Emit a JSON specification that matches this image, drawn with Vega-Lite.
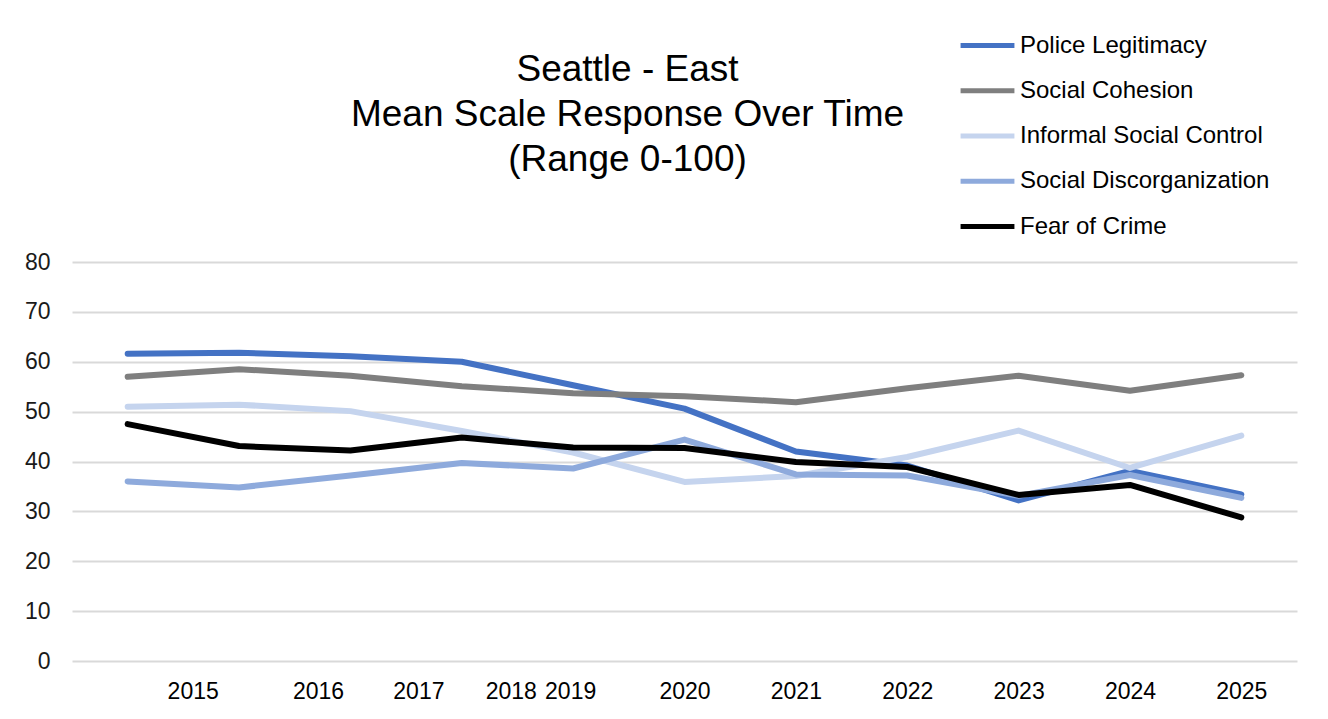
{
  "$schema": "https://vega.github.io/schema/vega-lite/v6.json",
  "width": 1225,
  "height": 399,
  "autosize": {"type": "none"},
  "padding": {"left": 72, "top": 262, "right": 31, "bottom": 58},
  "background": "white",
  "title": {
    "text": ["Seattle - East", "Mean Scale Response Over Time", "(Range 0-100)"],
    "font": "Liberation Sans",
    "fontSize": 37,
    "fontWeight": "normal",
    "color": "#000000",
    "lineHeight": 45,
    "anchor": "middle",
    "frame": "group",
    "dx": -57,
    "offset": -163
  },
  "data": {
    "values": [
      {"year": 2015, "series": "Police Legitimacy", "value": 61.6},
      {"year": 2016, "series": "Police Legitimacy", "value": 61.8},
      {"year": 2017, "series": "Police Legitimacy", "value": 61.1},
      {"year": 2018, "series": "Police Legitimacy", "value": 60.0},
      {"year": 2019, "series": "Police Legitimacy", "value": 55.3},
      {"year": 2020, "series": "Police Legitimacy", "value": 50.6},
      {"year": 2021, "series": "Police Legitimacy", "value": 42.0},
      {"year": 2022, "series": "Police Legitimacy", "value": 39.2},
      {"year": 2023, "series": "Police Legitimacy", "value": 32.2},
      {"year": 2024, "series": "Police Legitimacy", "value": 38.1},
      {"year": 2025, "series": "Police Legitimacy", "value": 33.4},
      {"year": 2015, "series": "Social Cohesion", "value": 57.0},
      {"year": 2016, "series": "Social Cohesion", "value": 58.5},
      {"year": 2017, "series": "Social Cohesion", "value": 57.2},
      {"year": 2018, "series": "Social Cohesion", "value": 55.1},
      {"year": 2019, "series": "Social Cohesion", "value": 53.7},
      {"year": 2020, "series": "Social Cohesion", "value": 53.1},
      {"year": 2021, "series": "Social Cohesion", "value": 51.9},
      {"year": 2022, "series": "Social Cohesion", "value": 54.7},
      {"year": 2023, "series": "Social Cohesion", "value": 57.2},
      {"year": 2024, "series": "Social Cohesion", "value": 54.2},
      {"year": 2025, "series": "Social Cohesion", "value": 57.3},
      {"year": 2015, "series": "Informal Social Control", "value": 51.0},
      {"year": 2016, "series": "Informal Social Control", "value": 51.4},
      {"year": 2017, "series": "Informal Social Control", "value": 50.1},
      {"year": 2018, "series": "Informal Social Control", "value": 46.1},
      {"year": 2019, "series": "Informal Social Control", "value": 41.8},
      {"year": 2020, "series": "Informal Social Control", "value": 35.9},
      {"year": 2021, "series": "Informal Social Control", "value": 37.1},
      {"year": 2022, "series": "Informal Social Control", "value": 40.9},
      {"year": 2023, "series": "Informal Social Control", "value": 46.2},
      {"year": 2024, "series": "Informal Social Control", "value": 38.7},
      {"year": 2025, "series": "Informal Social Control", "value": 45.2},
      {"year": 2015, "series": "Social Discorganization", "value": 36.0},
      {"year": 2016, "series": "Social Discorganization", "value": 34.8},
      {"year": 2017, "series": "Social Discorganization", "value": 37.2},
      {"year": 2018, "series": "Social Discorganization", "value": 39.7},
      {"year": 2019, "series": "Social Discorganization", "value": 38.6},
      {"year": 2020, "series": "Social Discorganization", "value": 44.4},
      {"year": 2021, "series": "Social Discorganization", "value": 37.4},
      {"year": 2022, "series": "Social Discorganization", "value": 37.2},
      {"year": 2023, "series": "Social Discorganization", "value": 33.1},
      {"year": 2024, "series": "Social Discorganization", "value": 37.3},
      {"year": 2025, "series": "Social Discorganization", "value": 32.7},
      {"year": 2015, "series": "Fear of Crime", "value": 47.5},
      {"year": 2016, "series": "Fear of Crime", "value": 43.1},
      {"year": 2017, "series": "Fear of Crime", "value": 42.2},
      {"year": 2018, "series": "Fear of Crime", "value": 44.8},
      {"year": 2019, "series": "Fear of Crime", "value": 42.8},
      {"year": 2020, "series": "Fear of Crime", "value": 42.7},
      {"year": 2021, "series": "Fear of Crime", "value": 39.9},
      {"year": 2022, "series": "Fear of Crime", "value": 38.9},
      {"year": 2023, "series": "Fear of Crime", "value": 33.3},
      {"year": 2024, "series": "Fear of Crime", "value": 35.3},
      {"year": 2025, "series": "Fear of Crime", "value": 28.8}
    ]
  },
  "mark": {"type": "line", "strokeWidth": 6, "strokeCap": "round", "strokeJoin": "round"},
  "encoding": {
    "x": {
      "field": "year",
      "type": "ordinal",
      "scale": {"type": "point", "padding": 0.5},
      "axis": {
        "title": null,
        "labelAngle": 0,
        "domain": false,
        "ticks": false,
        "grid": false,
        "labelFont": "Liberation Sans",
        "labelFontSize": 23,
        "labelColor": "#000000",
        "labelPadding": 19,
        "labelOffset": {
          "condition": [
            {"test": "datum.value == 2015", "value": 65},
            {"test": "datum.value == 2016", "value": 79},
            {"test": "datum.value == 2017", "value": 68},
            {"test": "datum.value == 2018", "value": 49},
            {"test": "datum.value == 2019", "value": -3}
          ],
          "value": 0
        }
      }
    },
    "y": {
      "field": "value",
      "type": "quantitative",
      "scale": {"domain": [0, 80], "nice": false},
      "axis": {
        "title": null,
        "values": [0, 10, 20, 30, 40, 50, 60, 70, 80],
        "domain": false,
        "ticks": false,
        "gridColor": "#d9d9d9",
        "gridWidth": 2,
        "labelFont": "Liberation Sans",
        "labelFontSize": 23,
        "labelColor": "#1a1a1a",
        "labelPadding": 22
      }
    },
    "color": {
      "field": "series",
      "type": "nominal",
      "sort": ["Police Legitimacy", "Social Cohesion", "Informal Social Control", "Social Discorganization", "Fear of Crime"],
      "scale": {
        "domain": ["Police Legitimacy", "Social Cohesion", "Informal Social Control", "Social Discorganization", "Fear of Crime"],
        "range": ["#4472c4", "#7f7f7f", "#c5d4ee", "#8eaadc", "#000000"]
      },
      "legend": {
        "title": null,
        "orient": "none",
        "legendX": 886,
        "legendY": -246,
        "symbolType": "stroke",
        "symbolStrokeWidth": 5,
        "symbolSize": 2900,
        "labelFont": "Liberation Sans",
        "labelFontSize": 24,
        "labelColor": "#000000",
        "labelOffset": 3,
        "rowPadding": 3.25,
        "labelLimit": 400
      }
    },
    "order": {"field": "series"}
  },
  "config": {"view": {"stroke": null}}
}
